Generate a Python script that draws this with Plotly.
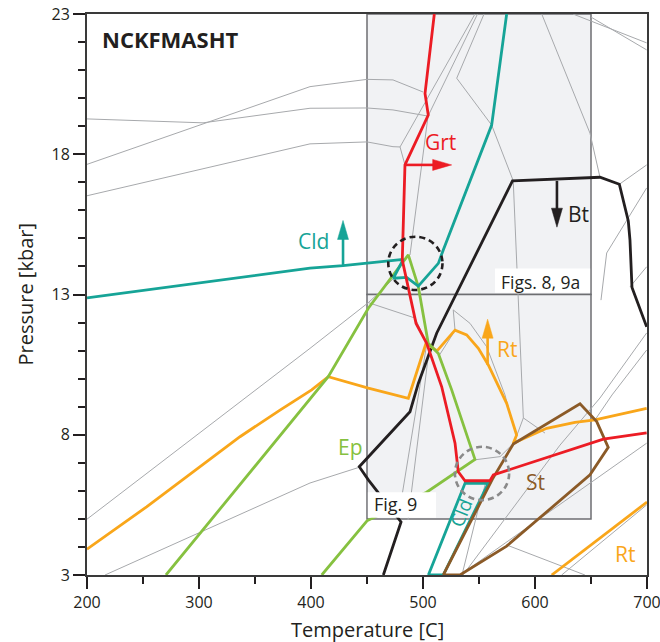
import plotly.graph_objects as go

# ---- phase boundaries: temperature [C] and pressure [kbar] ----
grt_T = [510.1, 501.8, 504.7, 483.9, 481.5, 488.4, 493.8, 503.3, 516.7, 528.6, 531.5, 537.5, 559.8, 562.8, 661.0, 699.7]
grt_P = [23.0, 20.17, 19.40, 17.62, 14.23, 12.92, 11.97, 11.26, 9.71, 7.70, 6.68, 6.36, 6.36, 6.57, 7.84, 8.07]

cld_T = [200, 399.1, 428.6, 450, 482.4, 473.5, 485.4, 495.8, 513.7, 518.1, 561.3, 574.7]
cld_P = [12.88, 13.94, 14.03, 14.12, 14.25, 13.58, 13.61, 13.30, 14.11, 14.59, 19.04, 23.0]

cld_low_T = [504.8, 537.5, 558.3, 518.1, 504.8]
cld_low_P = [3.0, 6.27, 6.27, 3.0, 3.0]

ep_T = [270.5, 340.2, 399.1, 415.4, 451.2, 486.9, 495.8, 504.7, 513.7, 525.6, 546.4, 503.2, 450.0, 409.6]
ep_P = [3.0, 6.39, 9.24, 10.07, 12.51, 14.41, 13.28, 11.26, 10.90, 9.60, 7.12, 5.95, 4.93, 3.0]

rt_T = [200, 253.2, 336.6, 372.3, 400.6, 415.4, 451.2, 486.9, 502.7, 512.5, 528.6, 539.0, 549.4, 558.3,
        574.7, 583.6, 580.6, 610.4, 635.7, 653.6, 699.7]
rt_P = [3.92, 5.43, 7.93, 8.88, 9.60, 10.07, 9.66, 9.30, 11.26, 10.99, 11.73, 11.56, 11.08, 10.49,
        9.12, 7.99, 7.70, 8.23, 8.44, 8.53, 8.94]

rt_low_T = [614.9, 700.0]
rt_low_P = [3.0, 5.6]

bt_T = [464.6, 480.4, 451.2, 443.1, 488.4, 495.8, 512.2, 526.8, 579.9, 658.0, 675.3, 683.3, 684.8, 686.6, 699.7]
bt_P = [3.0, 4.89, 6.39, 6.86, 8.82, 9.83, 11.62, 12.80, 17.05, 17.18, 16.93, 15.62, 14.94, 13.25, 11.85]

st_T = [518.1, 533.0, 574.7, 649.1, 665.4, 655.1, 640.2, 580.6, 562.0, 518.1]
st_P = [3.0, 3.0, 4.03, 6.57, 7.55, 8.47, 9.10, 7.67, 6.42, 3.0]

# minor field boundaries (None separates individual curves)
grey_T = [200, 303.6, 399.1, 450, 473.2, 504.5, None,
          200, 399.1, 450, 473.2, 500.0, None,
          200, 399.1, 450, 473.2, 479.5, 483.9, None,
          546.4, 479.5, None,
          548.7, 504.5, None,
          554.5, 530.1, 561.3, 580.6, None,
          504.5, 488.4, None,
          606.0, 649.1, 658.0, None,
          633.9, 699.7, None,
          650.0, 699.7, None,
          675.3, 699.7, None,
          699.7, 664.0, 658.9, None,
          699.7, 684.8, None,
          580.6, 585.1, 589.6, 608.9, None,
          589.6, 580.6, None,
          200, 399.1, 451.2, 461.6, 473.2, None,
          451.2, 492.9, 503.3, None,
          527.0, 528.6, None,
          527.0, 542.0, 556.8, 573.2, 580.4, None,
          513.7, 527.1, None,
          503.2, 483.9, 477.7, None,
          505.4, 491.1, 486.6, None,
          216.1, 399.1, 443.8, None,
          535.7, 622.3, 658.0, 699.7, None,
          533.0, 699.7, None,
          574.7, 644.6, None,
          623.8, 699.7, None,
          544.9, 568.8, 583.7, None,
          534.8, 549.1, 556.2, None,
          699.7, 668.8, 653.6]
grey_P = [19.26, 19.12, 19.64, 19.65, 19.58, 19.36, None,
          17.64, 20.41, 20.67, 20.65, 20.22, None,
          16.52, 18.37, 18.44, 18.27, 18.26, 17.62, None,
          23.0, 18.26, None,
          23.0, 19.36, None,
          23.0, 20.71, 19.04, 17.05, None,
          19.36, 14.41, None,
          23.0, 18.75, 17.18, None,
          23.0, 21.97, None,
          22.89, 21.72, None,
          16.93, 17.62, None,
          16.80, 14.48, 12.80, None,
          13.99, 13.27, None,
          17.02, 12.77, 8.60, 8.06, None,
          8.60, 7.63, None,
          4.99, 11.08, 12.71, 13.09, 13.55, None,
          12.71, 12.16, 11.26, None,
          12.45, 11.73, None,
          12.45, 11.97, 11.14, 9.42, 8.35, None,
          10.78, 11.62, None,
          11.20, 6.39, 4.96, None,
          11.02, 6.39, 4.96, None,
          3.0, 6.28, 6.85, None,
          3.0, 7.63, 9.31, 11.63, None,
          3.0, 7.70, None,
          4.07, 3.0, None,
          3.0, 5.50, None,
          7.10, 7.22, 7.81, None,
          3.0, 5.32, 6.32, None,
          11.02, 9.42, 8.53]

# field labels
label_text = ['Cld', 'Grt', 'Bt', 'Rt', 'Ep', 'St', 'Rt']
label_T = [402.1, 515.9, 639.1, 574.7, 435.5, 600.7, 680.4]
label_P = [14.92, 18.43, 15.87, 11.06, 7.56, 6.32, 3.75]

# direction arrows: (tail T, tail P, tip T, tip P)
arrow_cld = (428.6, 14.03, 428.6, 15.64)
arrow_grt = (483.9, 17.62, 525.6, 17.62)
arrow_bt = (619.6, 17.05, 619.6, 15.40)
arrow_rt = (557.7, 10.49, 557.7, 12.12)

# regions shown in other figures
box_T = [450, 650]
box_upper_P = [13, 23]
box_lower_P = [5, 13]

RED = '#ec1c24'
TEAL = '#16a497'
GREEN = '#86c140'
ORANGE = '#f9a61a'
BLACK = '#231f20'
BROWN = '#8b5a27'
GREY = '#a7a9ac'
FONT = 'Open Sans'

X_RANGE = [200, 700]
Y_RANGE = [3, 23]
W, H = 660, 642
M = dict(l=87, r=13, t=14, b=67)
px_per_T = (W - M['l'] - M['r']) / (X_RANGE[1] - X_RANGE[0])
px_per_P = (H - M['t'] - M['b']) / (Y_RANGE[1] - Y_RANGE[0])

fig = go.Figure()


def add_line(T, P, color, width):
    fig.add_trace(go.Scatter(x=T, y=P, mode='lines', line=dict(color=color, width=width),
                             hoverinfo='skip', connectgaps=False))


add_line(grey_T, grey_P, GREY, 1)
add_line(bt_T, bt_P, BLACK, 2.8)
add_line(rt_T, rt_P, ORANGE, 2.8)
add_line(rt_low_T, rt_low_P, ORANGE, 2.8)
add_line(ep_T, ep_P, GREEN, 2.8)
add_line(cld_T, cld_P, TEAL, 2.8)
add_line(cld_low_T, cld_low_P, TEAL, 2.8)
add_line(st_T, st_P, BROWN, 2.8)
add_line(grt_T, grt_P, RED, 2.8)

shapes = []
for yr in (box_upper_P, box_lower_P):
    shapes.append(dict(type='rect', xref='x', yref='y', x0=box_T[0], x1=box_T[1], y0=yr[0], y1=yr[1],
                       fillcolor='#f1f2f4', line=dict(color='#6d6e71', width=1.5), layer='below'))

# dashed circles around the invariant points
shapes.append(dict(type='circle', xref='x', yref='y', x0=469.0, x1=517.4, y0=13.16, y1=15.06,
                   line=dict(color=BLACK, width=2.6, dash='6px,4px'), layer='above'))
shapes.append(dict(type='circle', xref='x', yref='y', x0=528.5, x1=576.9, y0=5.67, y1=7.57,
                   line=dict(color='#8a8a8a', width=2.6, dash='6px,4px'), layer='above'))

# white backgrounds behind the box captions
shapes.append(dict(type='rect', xref='x', yref='y', x0=564.3, x1=649.2, y0=13.06, y1=13.93,
                   fillcolor='white', line=dict(width=0), layer='above'))
shapes.append(dict(type='rect', xref='x', yref='y', x0=450.8, x1=511.6, y0=5.04, y1=5.95,
                   fillcolor='white', line=dict(width=0), layer='above'))

# arrows: shaft as a line, head as a pixel-sized triangle at the tip
HEAD_LEN, HEAD_HALF = 19, 5.5
for (t0, p0, t1, p1), col in ((arrow_cld, TEAL), (arrow_grt, RED), (arrow_bt, BLACK), (arrow_rt, ORANGE)):
    dxp = (t1 - t0) * px_per_T
    dyp = (p1 - p0) * px_per_P
    L = (dxp ** 2 + dyp ** 2) ** 0.5
    ux, uy = dxp / L, dyp / L
    end_t = t1 - ux * (HEAD_LEN - 2) / px_per_T
    end_p = p1 - uy * (HEAD_LEN - 2) / px_per_P
    shapes.append(dict(type='line', xref='x', yref='y', x0=t0, y0=p0, x1=end_t, y1=end_p,
                       line=dict(color=col, width=2.6), layer='above'))
    bx, by = -ux * HEAD_LEN, -uy * HEAD_LEN
    nx, ny = -uy * HEAD_HALF, ux * HEAD_HALF
    path = (f'M0,0 L{bx + nx:.2f},{by + ny:.2f} L{bx - nx:.2f},{by - ny:.2f} Z')
    shapes.append(dict(type='path', xref='x', yref='y', xsizemode='pixel', ysizemode='pixel',
                       xanchor=t1, yanchor=p1, path=path, fillcolor=col, line=dict(color=col, width=0.5),
                       layer='above'))

annotations = []
label_colors = [TEAL, RED, BLACK, ORANGE, GREEN, BROWN, ORANGE]
for txt, t, p, c in zip(label_text, label_T, label_P, label_colors):
    annotations.append(dict(x=t, y=p, xref='x', yref='y', text=txt, showarrow=False,
                            font=dict(family=FONT, size=21, color=c), xanchor='center', yanchor='middle'))

annotations.append(dict(x=533.9, y=5.21, xref='x', yref='y', text='Cld', showarrow=False, textangle=-68,
                        font=dict(family=FONT, size=19, color=TEAL), xanchor='center', yanchor='middle'))
annotations.append(dict(x=604.9, y=13.45, xref='x', yref='y', text='Figs. 8, 9a', showarrow=False,
                        font=dict(family=FONT, size=17.5, color=BLACK), xanchor='center', yanchor='middle'))
annotations.append(dict(x=475.5, y=5.53, xref='x', yref='y', text='Fig. 9', showarrow=False,
                        font=dict(family=FONT, size=18, color=BLACK), xanchor='center', yanchor='middle'))
annotations.append(dict(x=211.6, y=22.11, xref='x', yref='y', text='<b>NCKFMASHT</b>', showarrow=False,
                        font=dict(family=FONT, size=22, color=BLACK), xanchor='left', yanchor='middle'))

# axis titles
annotations.append(dict(x=0.5, y=0, xref='paper', yref='paper', text='Temperature [C]', showarrow=False,
                        yshift=-54, font=dict(family=FONT, size=20, color='#231f20'),
                        xanchor='center', yanchor='middle'))
annotations.append(dict(x=0, y=0.5, xref='paper', yref='paper', text='Pressure [kbar]', showarrow=False,
                        xshift=-62, textangle=-90, font=dict(family=FONT, size=20, color='#231f20'),
                        xanchor='center', yanchor='middle'))

fig.update_layout(
    width=W, height=H, margin=M,
    plot_bgcolor='white', paper_bgcolor='white', showlegend=False,
    shapes=shapes, annotations=annotations,
    font=dict(family=FONT, size=16, color='#231f20'),
    xaxis=dict(range=X_RANGE, tick0=200, dtick=100, ticks='outside', ticklen=12, tickwidth=1.8,
               tickcolor='#231f20', showline=True, linewidth=2, linecolor='#3a3a3a', mirror=True,
               showgrid=False, zeroline=False, tickfont=dict(size=16, family=FONT), automargin=False,
               ticklabeloverflow='allow',
               minor=dict(dtick=50, ticks='outside', ticklen=7, tickwidth=1.8, tickcolor='#231f20',
                          showgrid=False)),
    yaxis=dict(range=Y_RANGE, tick0=3, dtick=5, ticks='outside', ticklen=12, tickwidth=1.8,
               tickcolor='#231f20', showline=True, linewidth=2, linecolor='#3a3a3a', mirror=True,
               showgrid=False, zeroline=False, tickfont=dict(size=16, family=FONT), automargin=False,
               ticklabeloverflow='allow',
               minor=dict(dtick=1, tick0=3, ticks='outside', ticklen=7, tickwidth=1.8, tickcolor='#231f20',
                          showgrid=False)),
)

fig.write_html('out.html')
